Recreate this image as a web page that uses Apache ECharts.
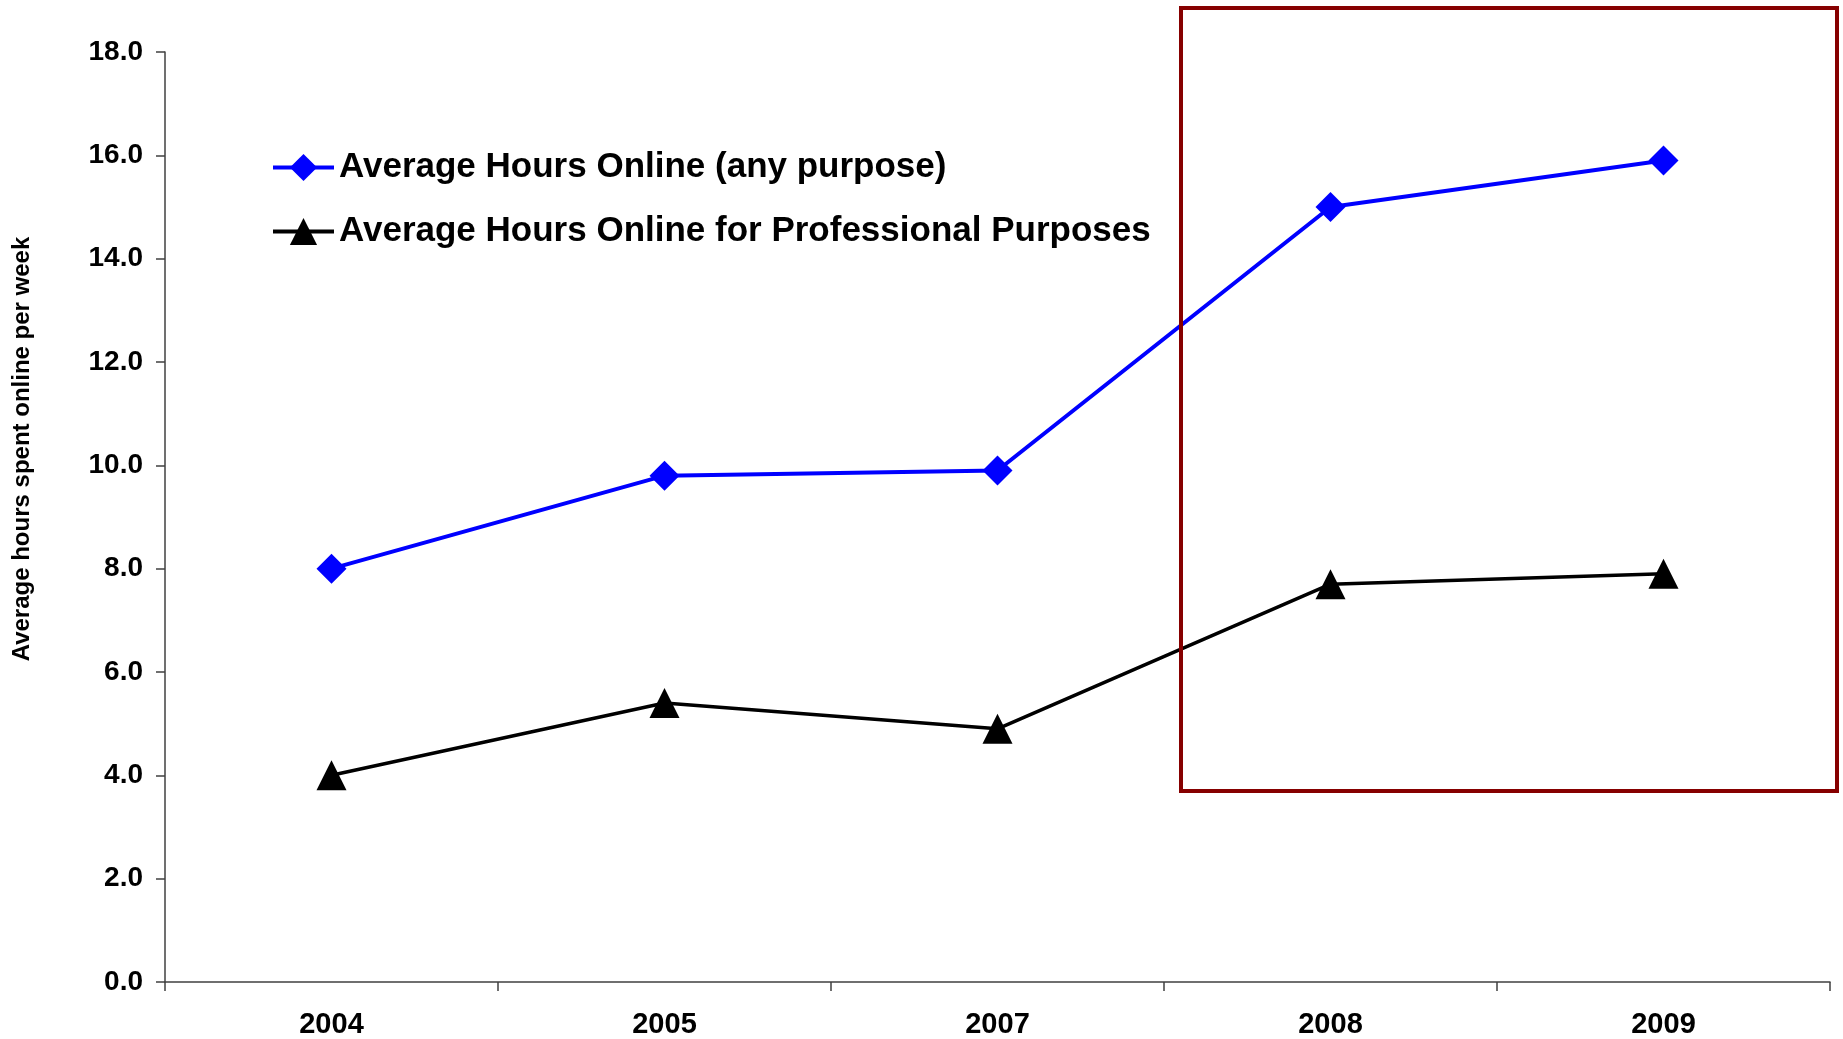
<!DOCTYPE html>
<html>
<head>
    <meta charset="utf-8">
    <title>Average hours spent online per week</title>
    <script src="https://cdn.jsdelivr.net/npm/echarts@6/dist/echarts.min.js"></script>
    <style>
        html, body { margin: 0; padding: 0; background: #fff; }
    </style>
</head>
<body>
    <div id="main" style="width: 1843px;height:1039px;"></div>
    <script type="text/javascript">
        // data
        var years = ['2004', '2005', '2007', '2008', '2009'];
        var anyPurpose = [8.0, 9.8, 9.9, 15.0, 15.9];
        var professional = [4.0, 5.4, 4.9, 7.7, 7.9];
        var seriesNames = ['Average Hours Online (any purpose)', 'Average Hours Online for Professional Purposes'];

        var myChart = echarts.init(document.getElementById('main'));
        var font = 'Liberation Sans, Arial, sans-serif';

        var option = {
            animation: false,
            backgroundColor: '#fff',
            grid: { left: 165, right: 13, top: 52, bottom: 56 },
            legend: {
                orient: 'vertical',
                left: 266,
                top: 145,
                itemWidth: 61,
                itemHeight: 34,
                itemGap: 29,
                lineStyle: { width: 4 },
                textStyle: { fontFamily: font, fontWeight: 'bold', fontSize: 35, color: '#000', lineHeight: 35 },
                data: seriesNames
            },
            xAxis: {
                type: 'category',
                data: years,
                boundaryGap: true,
                axisLine: { lineStyle: { color: '#404040', width: 1.5 } },
                axisTick: { show: true, length: 9, alignWithLabel: false, lineStyle: { color: '#404040', width: 1.5 } },
                axisLabel: { fontFamily: font, fontWeight: 'bold', fontSize: 29, color: '#000', margin: 28 }
            },
            yAxis: {
                type: 'value',
                min: 0,
                max: 18,
                interval: 2,
                axisLine: { show: true, lineStyle: { color: '#404040', width: 1.5 } },
                axisTick: { show: true, length: 9, lineStyle: { color: '#404040', width: 1.5 } },
                splitLine: { show: false },
                axisLabel: {
                    fontFamily: font, fontWeight: 'bold', fontSize: 28, color: '#000', margin: 22,
                    formatter: function (v) { return v.toFixed(1); }
                }
            },
            graphic: [
                {
                    type: 'text',
                    x: 22,
                    y: 449,
                    rotation: Math.PI / 2,
                    style: {
                        text: 'Average hours spent online per week',
                        fontFamily: font, fontWeight: 'bold', fontSize: 24, fill: '#000',
                        align: 'center', verticalAlign: 'middle'
                    }
                },
                {
                    type: 'rect',
                    shape: { x: 1181, y: 8, width: 656, height: 783 },
                    style: { fill: 'none', stroke: '#860000', lineWidth: 4 },
                    z: 10
                }
            ],
            series: [
                {
                    name: seriesNames[0],
                    type: 'line',
                    data: anyPurpose,
                    symbol: 'diamond',
                    symbolSize: 30,
                    itemStyle: { color: '#0000ff' },
                    lineStyle: { color: '#0000ff', width: 4 }
                },
                {
                    name: seriesNames[1],
                    type: 'line',
                    data: professional,
                    symbol: 'triangle',
                    symbolSize: 30,
                    itemStyle: { color: '#000' },
                    lineStyle: { color: '#000', width: 3.5 }
                }
            ]
        };
        myChart.setOption(option);
    </script>
</body>
</html>
